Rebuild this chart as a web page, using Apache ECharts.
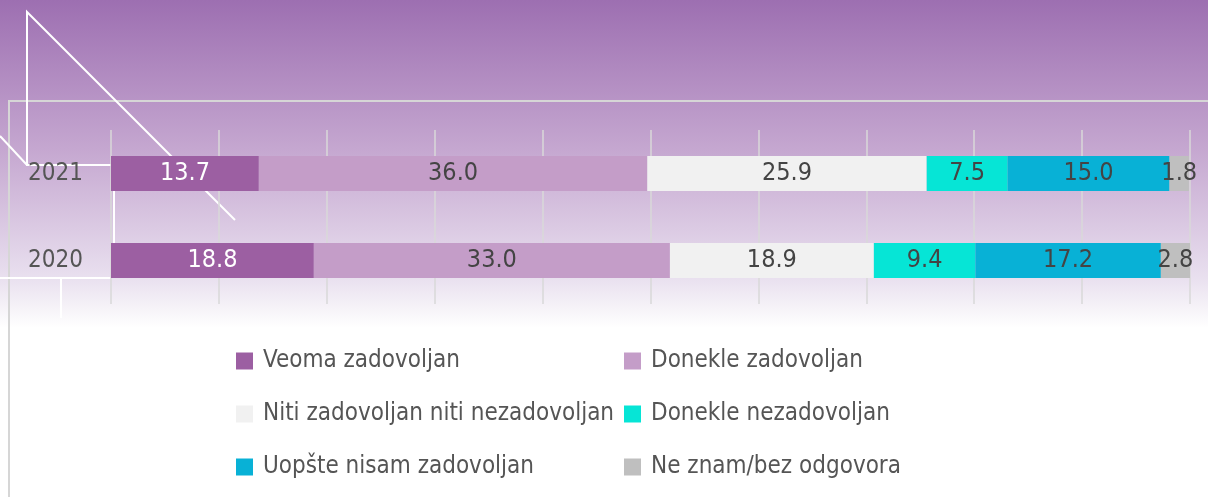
<!DOCTYPE html>
<html>
<head>
<meta charset="utf-8">
<script src="https://cdn.jsdelivr.net/npm/echarts@6/dist/echarts.min.js"></script>
<style>
html,body{margin:0;padding:0;background:#fff;}
#chart{width:1208px;height:497px;}
</style>
</head>
<body>
<div id="chart"></div>
<script>
const categories = ['2021', '2020'];
const seriesNames = ['Veoma zadovoljan', 'Donekle zadovoljan', 'Niti zadovoljan niti nezadovoljan', 'Donekle nezadovoljan', 'Uopšte nisam zadovoljan', 'Ne znam/bez odgovora'];
const veoma = [13.7, 18.8];
const donekleZad = [36.0, 33.0];
const niti = [25.9, 18.9];
const donekleNezad = [7.5, 9.4];
const uopste = [15.0, 17.2];
const neZnam = [1.8, 2.8];
const xTicks = [0, 10, 20, 30, 40, 50, 60, 70, 80, 90, 100];

const values = [veoma, donekleZad, niti, donekleNezad, uopste, neZnam];
const colors = ['#9c5fa2', '#c49dc8', '#f1f1f1', '#06e5d6', '#08b1d6', '#bfbfbf'];
const labelColors = ['#ffffff', '#444444', '#444444', '#444444', '#444444', '#444444'];
const FONT = "'Liberation Sans Narrow', 'DejaVu Sans Condensed', 'Roboto', sans-serif";

const chart = echarts.init(document.getElementById('chart'), null, {renderer: 'canvas'});

const series = seriesNames.map((name, i) => ({
  name: name,
  type: 'bar',
  stack: 'total',
  barWidth: 35,
  data: values[i],
  itemStyle: {color: colors[i]},
  label: {
    show: true,
    position: 'inside',
    color: labelColors[i],
    fontFamily: FONT,
    fontSize: 25,
    formatter: p => p.value.toFixed(1)
  },
  emphasis: {disabled: true}
}));

const legendText = {color: '#555555', fontFamily: FONT, fontSize: 24, lineHeight: 30, padding: [0, 0, 0, 5]};

chart.setOption({
  animation: false,
  backgroundColor: {
    type: 'linear', x: 0, y: 0, x2: 0, y2: 1,
    colorStops: [
      {offset: 0, color: '#9d6fb1'},
      {offset: 0.3, color: '#c5a7d0'},
      {offset: 0.56, color: '#e9e0ef'},
      {offset: 0.62, color: '#f6f3f8'},
      {offset: 0.66, color: '#ffffff'},
      {offset: 1, color: '#ffffff'}
    ]
  },
  graphic: [
    {type: 'polyline', z: -1, shape: {points: [[1208, 101], [9, 101], [9, 497]]}, style: {stroke: '#d6d6d6', lineWidth: 2, fill: null}},
    {type: 'polyline', z: -1, shape: {points: [[235, 220], [27, 12], [27, 165], [111, 165]]}, style: {stroke: '#ffffff', lineWidth: 2, fill: null}},
    {type: 'line', z: -1, shape: {x1: 0, y1: 136, x2: 27, y2: 165}, style: {stroke: '#ffffff', lineWidth: 2}},
    {type: 'line', z: -1, shape: {x1: 114, y1: 165, x2: 114, y2: 243}, style: {stroke: '#ffffff', lineWidth: 2}},
    {type: 'line', z: -1, shape: {x1: 0, y1: 278, x2: 111, y2: 278}, style: {stroke: '#ffffff', lineWidth: 2}},
    {type: 'line', z: -1, shape: {x1: 61, y1: 278, x2: 61, y2: 318}, style: {stroke: '#ffffff', lineWidth: 2}}
  ],
  legend: [
    {
      orient: 'vertical', left: 236, top: 346, padding: 0, itemGap: 23,
      itemWidth: 17, itemHeight: 17, icon: 'rect',
      data: [seriesNames[0], seriesNames[2], seriesNames[4]],
      textStyle: legendText, selectedMode: false
    },
    {
      orient: 'vertical', left: 624, top: 346, padding: 0, itemGap: 23,
      itemWidth: 17, itemHeight: 17, icon: 'rect',
      data: [seriesNames[1], seriesNames[3], seriesNames[5]],
      textStyle: legendText, selectedMode: false
    }
  ],
  grid: {left: 111, right: 18, top: 130, height: 174, containLabel: false},
  xAxis: {
    type: 'value', min: xTicks[0], max: xTicks[xTicks.length - 1], interval: xTicks[1] - xTicks[0],
    axisLabel: {show: false}, axisLine: {show: false}, axisTick: {show: false},
    splitLine: {show: true, lineStyle: {color: '#d8d8d8', width: 1.5}}
  },
  yAxis: {
    type: 'category', data: categories, inverse: true,
    axisLine: {show: false}, axisTick: {show: false},
    axisLabel: {color: '#555555', fontFamily: FONT, fontSize: 24, margin: 28}
  },
  series: series
});
</script>
</body>
</html>
